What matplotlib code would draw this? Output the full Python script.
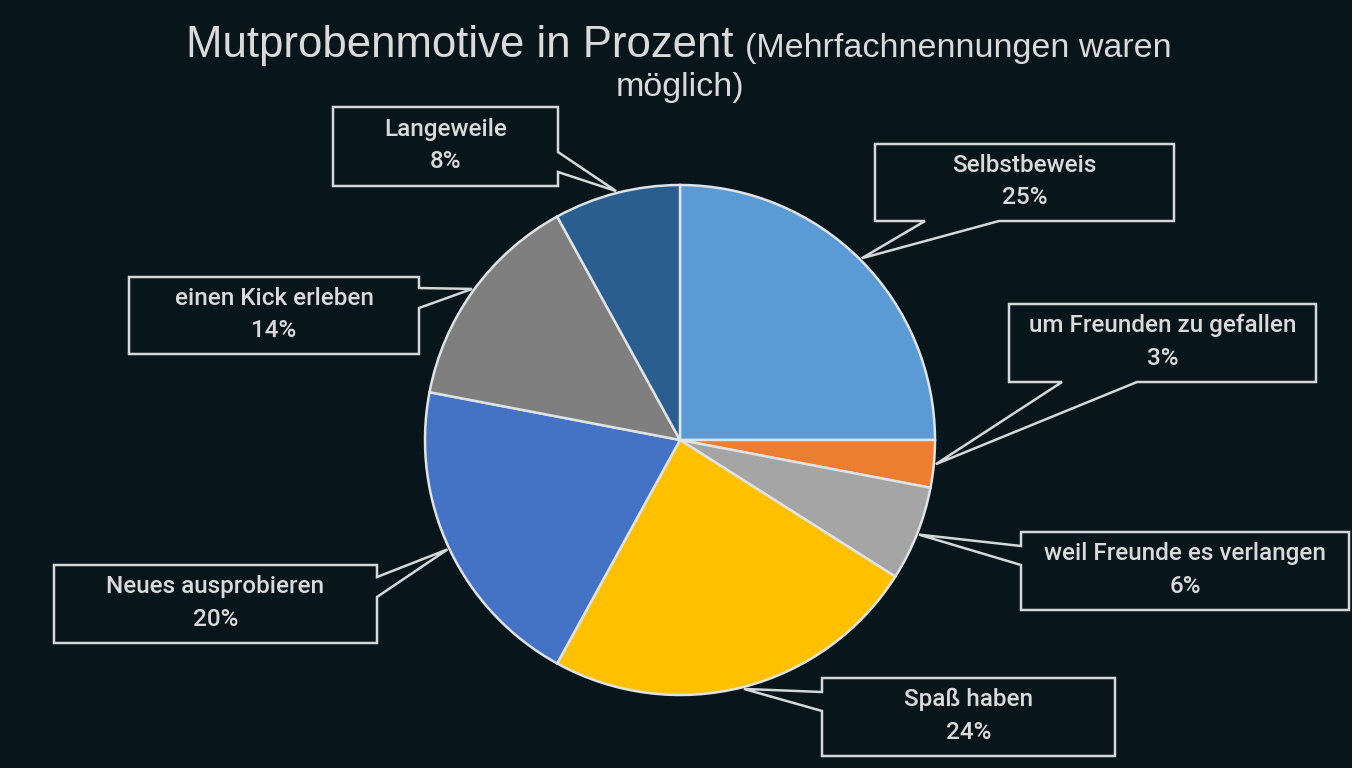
import numpy as np
import matplotlib.pyplot as plt
from matplotlib.patches import Polygon

# Data (clockwise from 12 o'clock)
labels = ['Selbstbeweis', 'um Freunden zu gefallen', 'weil Freunde es verlangen',
          'Spaß haben', 'Neues ausprobieren', 'einen Kick erleben', 'Langeweile']
values = [25, 3, 6, 24, 20, 14, 8]
colors = ['#5b9bd5', '#ed7d31', '#a5a5a5', '#ffc000', '#4472c4', '#7f7f7f', '#2a5e91']

BG = '#08151a'
FG = '#dadada'
W, H = 1352, 768

fig = plt.figure(figsize=(W / 100, H / 100), dpi=100, facecolor=BG)
ax = fig.add_axes([0, 0, 1, 1])
ax.set_facecolor(BG)
ax.set_xlim(0, W)
ax.set_ylim(0, H)
ax.set_aspect('equal')
ax.axis('off')

# pixel coords (origin top-left) -> data coords
def P(x, y):
    return (x, H - y)

cx, cy, R = 680, 440, 255
wedges, _ = ax.pie(values, colors=colors, startangle=90, counterclock=False,
                   center=P(cx, cy), radius=R,
                   wedgeprops=dict(edgecolor='#dfe3e6', linewidth=1.8))
ax.set_xlim(0, W)
ax.set_ylim(0, H)

# callout boxes: (x0, y0, x1, y1), side of pointer, pointer base range along that side
boxes = [
    ((875, 144, 1174, 221), 'bottom', (925, 999)),
    ((1009, 304, 1316, 382), 'bottom', (1062, 1137)),
    ((1021, 532, 1349, 610), 'left', (546, 565)),
    ((822, 678, 1115, 756), 'left', (692, 711)),
    ((54, 565, 377, 643), 'right', (577, 597)),
    ((129, 277, 419, 354), 'right', (288, 308)),
    ((333, 107, 558, 186), 'right', (152, 172)),
]

cum = np.cumsum([0] + values[:-1])
for lab, val, c0, (box, side, (a, b)) in zip(labels, values, cum, boxes):
    ang = np.deg2rad((c0 + val / 2) / 100 * 360)
    tip = (cx + (R + 2) * np.sin(ang), cy - (R + 2) * np.cos(ang))
    x0, y0, x1, y1 = box
    if side == 'bottom':
        pts = [(x0, y0), (x1, y0), (x1, y1), (b, y1), tip, (a, y1), (x0, y1)]
    elif side == 'left':
        pts = [(x0, y0), (x1, y0), (x1, y1), (x0, y1), (x0, b), tip, (x0, a)]
    else:
        pts = [(x0, y0), (x1, y0), (x1, a), tip, (x1, b), (x1, y1), (x0, y1)]
    ax.add_patch(Polygon([P(*p) for p in pts], closed=True, facecolor=BG,
                         edgecolor='#d4d8da', linewidth=1.8, joinstyle='miter', zorder=3))
    mx = (x0 + x1) / 2
    my = (y0 + y1) / 2
    ax.text(*P(mx, my - 1), f'{lab}\n{val}%', ha='center', va='center', color=FG,
            fontsize=17.5, family='Roboto', fontweight='medium', linespacing=1.55, zorder=4)

# title with two font sizes
fig.text(733 / W, 1 - 57 / H, 'Mutprobenmotive in Prozent', ha='right', va='baseline',
         color=FG, fontsize=31.5, family='Liberation Sans')
fig.text(745 / W, 1 - 57 / H, '(Mehrfachnennungen waren', ha='left', va='baseline',
         color=FG, fontsize=24.5, family='Liberation Sans')
fig.text(680 / W, 1 - 96 / H, 'möglich)', ha='center', va='baseline',
         color=FG, fontsize=24.5, family='Liberation Sans')

fig.savefig('out.png', dpi=100, facecolor=BG)
